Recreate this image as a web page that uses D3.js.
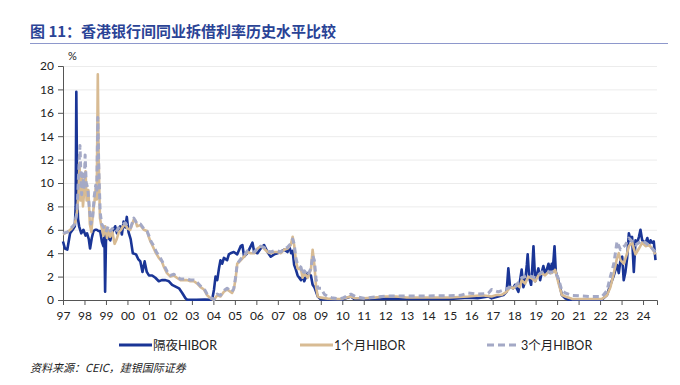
<!DOCTYPE html>
<html>
<head>
<meta charset="utf-8">
<script src="https://cdn.jsdelivr.net/npm/d3@7"></script>
<style>
  body { margin: 0; background: #fff; }
  svg { display: block; }
</style>
</head>
<body>
<svg></svg>
<script>
var width = 680,
    height = 385;
var svg = d3.select("svg")
    .attr("width", width)
    .attr("height", height);

// data: [year fraction, %]
var overnight = [
  [1997.0,5.0],[1997.09,4.4],[1997.2,4.3],[1997.33,5.7],[1997.45,6.0],[1997.55,6.3],[1997.59,8.0],[1997.62,17.8],
  [1997.66,9.0],[1997.7,6.9],[1997.75,6.3],[1997.85,5.7],[1997.95,6.0],[1998.05,5.5],[1998.12,5.7],[1998.2,5.2],
  [1998.26,4.4],[1998.34,5.3],[1998.42,5.9],[1998.5,6.0],[1998.57,6.0],[1998.65,5.9],[1998.73,5.9],[1998.81,5.0],
  [1998.88,4.6],[1998.93,5.5],[1998.96,0.7],[1999.0,5.0],[1999.04,5.7],[1999.12,5.3],[1999.2,5.1],[1999.28,5.7],
  [1999.35,6.0],[1999.43,6.3],[1999.51,5.7],[1999.6,6.1],[1999.66,6.3],[1999.74,5.6],[1999.82,6.7],[1999.9,6.2],
  [1999.97,7.1],[2000.05,5.8],[2000.15,5.2],[2000.25,4.0],[2000.4,3.9],[2000.5,3.5],[2000.6,3.3],[2000.7,2.4],
  [2000.8,3.3],[2000.9,2.4],[2001.0,2.1],[2001.15,2.1],[2001.3,1.9],[2001.46,1.6],[2001.6,1.7],[2001.77,1.7],
  [2001.93,1.6],[2002.08,1.3],[2002.24,1.15],[2002.4,1.0],[2002.55,0.6],[2002.7,0.15],[2002.78,0.02],[2003.2,0.02],
  [2003.6,0.03],[2003.87,0.02],[2003.95,0.1],[2004.03,0.9],[2004.1,2.0],[2004.18,1.7],[2004.26,2.7],[2004.33,3.4],
  [2004.41,3.1],[2004.49,3.6],[2004.64,3.4],[2004.72,3.9],[2004.8,4.0],[2004.95,4.1],[2005.11,3.9],[2005.27,4.6],
  [2005.35,4.7],[2005.43,3.7],[2005.58,4.0],[2005.74,4.6],[2005.82,4.9],[2005.9,4.1],[2006.05,4.0],[2006.2,4.4],
  [2006.36,4.7],[2006.52,4.1],[2006.67,3.7],[2006.83,3.9],[2006.98,4.0],[2007.14,4.1],[2007.3,4.3],[2007.45,4.1],
  [2007.53,4.6],[2007.62,4.0],[2007.69,4.2],[2007.76,3.0],[2007.84,2.6],[2007.92,2.1],[2008.08,1.7],[2008.15,2.1],
  [2008.23,1.6],[2008.39,2.3],[2008.54,2.1],[2008.62,1.3],[2008.7,1.1],[2008.78,0.7],[2008.86,0.3],[2009.01,0.05],
  [2009.5,0.05],[2010.0,0.05],[2010.4,0.3],[2010.55,0.08],[2011.0,0.1],[2011.5,0.08],[2012.0,0.12],[2013.0,0.1],
  [2014.0,0.08],[2015.0,0.08],[2015.86,0.2],[2016.3,0.15],[2016.8,0.3],[2016.95,0.14],[2017.26,0.3],[2017.5,0.43],
  [2017.65,0.7],[2017.73,2.7],[2017.81,1.1],[2017.96,1.0],[2018.04,1.3],[2018.2,0.7],[2018.27,1.6],[2018.35,2.6],
  [2018.43,1.1],[2018.51,1.6],[2018.59,3.0],[2018.63,3.9],[2018.7,1.9],[2018.79,1.3],[2018.85,2.9],[2018.9,4.6],
  [2018.98,1.6],[2019.05,2.1],[2019.13,2.7],[2019.21,1.7],[2019.29,2.4],[2019.36,2.9],[2019.44,2.3],[2019.52,2.6],
  [2019.6,3.1],[2019.68,2.3],[2019.75,3.1],[2019.8,2.6],[2019.88,4.6],[2019.94,2.4],[2020.03,1.86],[2020.14,1.1],
  [2020.22,0.43],[2020.38,0.14],[2020.53,0.02],[2021.0,0.03],[2021.6,0.02],[2022.09,0.03],[2022.32,0.43],[2022.48,1.3],
  [2022.64,2.1],[2022.79,3.0],[2022.87,2.3],[2022.95,3.4],[2023.03,3.7],[2023.1,1.7],[2023.18,2.4],[2023.26,3.6],
  [2023.34,5.7],[2023.42,5.1],[2023.49,5.4],[2023.57,2.4],[2023.65,5.1],[2023.73,4.9],[2023.81,5.4],[2023.88,6.0],
  [2023.96,5.1],[2024.12,4.9],[2024.2,5.3],[2024.27,4.7],[2024.35,5.1],[2024.43,4.9],[2024.5,5.0],[2024.58,3.4]
];

var oneMonth = [
  [1997.0,5.6],[1997.2,5.8],[1997.4,6.1],[1997.55,6.5],[1997.65,7.5],[1997.72,9.0],[1997.77,11.7],[1997.82,8.5],
  [1997.88,10.5],[1997.93,8.0],[1998.0,9.6],[1998.05,11.0],[1998.1,8.5],[1998.18,9.4],[1998.25,6.5],[1998.32,5.8],
  [1998.4,7.5],[1998.47,8.5],[1998.52,9.5],[1998.57,8.6],[1998.62,19.3],[1998.66,12.0],[1998.72,7.0],[1998.8,6.2],
  [1998.88,5.5],[1998.96,6.3],[1999.05,5.3],[1999.12,6.0],[1999.2,5.4],[1999.3,5.8],[1999.4,4.8],[1999.5,5.2],
  [1999.6,5.8],[1999.7,6.0],[1999.8,6.3],[1999.9,6.5],[2000.0,6.1],[2000.13,6.0],[2000.3,6.9],[2000.37,6.8],
  [2000.45,6.3],[2000.6,6.4],[2000.76,6.0],[2000.91,5.9],[2000.99,5.4],[2001.07,5.0],[2001.15,4.7],[2001.3,4.1],
  [2001.46,3.6],[2001.6,3.3],[2001.68,2.9],[2001.84,2.3],[2002.0,2.0],[2002.16,2.1],[2002.3,1.9],[2002.47,1.7],
  [2002.63,1.7],[2002.78,1.7],[2002.93,1.6],[2003.09,1.6],[2003.25,1.4],[2003.4,1.1],[2003.56,0.9],[2003.71,0.4],
  [2003.87,0.15],[2004.03,0.02],[2004.18,0.4],[2004.33,0.3],[2004.49,0.7],[2004.64,0.9],[2004.72,0.8],[2004.87,0.6],
  [2004.95,0.9],[2005.04,1.9],[2005.11,3.1],[2005.27,3.4],[2005.43,3.7],[2005.58,4.1],[2005.74,4.0],[2005.9,4.0],
  [2006.05,4.4],[2006.2,4.6],[2006.36,4.4],[2006.52,4.1],[2006.67,4.0],[2006.83,4.1],[2006.98,4.1],[2007.14,4.0],
  [2007.3,4.3],[2007.45,4.4],[2007.6,4.7],[2007.69,5.4],[2007.76,4.7],[2007.84,3.4],[2007.92,2.7],[2008.08,2.6],
  [2008.15,1.9],[2008.23,2.3],[2008.39,1.9],[2008.54,2.6],[2008.62,4.3],[2008.7,3.0],[2008.78,1.1],[2008.86,0.3],
  [2009.01,0.2],[2009.32,0.12],[2009.8,0.08],[2010.0,0.1],[2010.4,0.3],[2010.6,0.15],[2011.0,0.15],[2011.5,0.2],
  [2012.0,0.3],[2012.5,0.3],[2013.0,0.22],[2014.0,0.22],[2015.0,0.22],[2015.86,0.3],[2016.5,0.4],[2016.95,0.3],
  [2017.18,0.43],[2017.42,0.43],[2017.65,0.7],[2017.81,1.1],[2017.96,1.0],[2018.12,1.3],[2018.27,1.1],[2018.35,1.7],
  [2018.51,1.4],[2018.66,2.0],[2018.82,1.86],[2018.98,1.6],[2019.13,2.1],[2019.29,2.3],[2019.44,2.1],[2019.6,2.4],
  [2019.75,2.3],[2019.91,2.57],[2020.07,1.4],[2020.22,0.43],[2020.38,0.3],[2020.69,0.1],[2021.5,0.08],[2022.09,0.1],
  [2022.32,0.4],[2022.48,1.1],[2022.64,2.3],[2022.79,3.6],[2022.87,4.0],[2022.95,3.4],[2023.1,3.1],[2023.26,4.0],
  [2023.34,4.6],[2023.49,4.9],[2023.65,3.9],[2023.81,4.4],[2023.96,4.9],[2024.12,4.6],[2024.27,4.7],[2024.43,4.4],
  [2024.58,3.9]
];

var threeMonth = [
  [1997.0,5.7],[1997.2,5.8],[1997.4,6.2],[1997.55,6.5],[1997.65,7.5],[1997.72,10.5],[1997.79,13.2],[1997.83,11.0],
  [1997.87,9.0],[1997.92,10.8],[1997.98,9.5],[1998.03,12.4],[1998.08,10.0],[1998.15,9.6],[1998.22,8.0],[1998.3,6.5],
  [1998.38,7.0],[1998.45,8.8],[1998.52,9.8],[1998.57,9.2],[1998.62,15.6],[1998.67,11.0],[1998.73,7.5],[1998.8,6.5],
  [1998.9,6.2],[1999.0,5.8],[1999.1,6.3],[1999.2,5.9],[1999.3,6.1],[1999.45,5.8],[1999.6,6.2],[1999.75,6.4],
  [1999.9,6.6],[2000.0,6.3],[2000.15,6.2],[2000.3,7.0],[2000.45,6.5],[2000.6,6.5],[2000.76,6.1],[2000.91,5.9],
  [2001.0,5.5],[2001.1,5.0],[2001.2,4.7],[2001.35,4.1],[2001.5,3.7],[2001.62,3.3],[2001.72,2.9],[2001.86,2.4],
  [2002.0,2.1],[2002.16,2.2],[2002.3,2.0],[2002.47,1.8],[2002.63,1.8],[2002.78,1.8],[2002.93,1.7],[2003.09,1.7],
  [2003.25,1.5],[2003.4,1.2],[2003.56,1.0],[2003.71,0.5],[2003.87,0.2],[2004.03,0.05],[2004.18,0.5],[2004.33,0.4],
  [2004.49,0.8],[2004.64,1.0],[2004.72,0.9],[2004.87,0.7],[2004.95,1.0],[2005.04,2.0],[2005.11,3.1],[2005.27,3.5],
  [2005.43,3.8],[2005.58,4.2],[2005.74,4.1],[2005.9,4.1],[2006.05,4.4],[2006.2,4.6],[2006.36,4.5],[2006.52,4.2],
  [2006.67,4.1],[2006.83,4.2],[2006.98,4.2],[2007.14,4.1],[2007.3,4.4],[2007.45,4.5],[2007.6,4.8],[2007.69,5.2],
  [2007.76,4.8],[2007.84,3.6],[2007.92,3.0],[2008.08,2.8],[2008.15,2.2],[2008.23,2.5],[2008.39,2.1],[2008.54,2.7],
  [2008.62,3.8],[2008.7,3.4],[2008.78,1.8],[2008.86,1.0],[2009.01,1.0],[2009.16,0.5],[2009.32,0.3],[2009.5,0.2],
  [2009.8,0.1],[2010.0,0.15],[2010.4,0.5],[2010.6,0.3],[2011.0,0.15],[2011.5,0.25],[2012.1,0.35],[2013.0,0.35],
  [2014.0,0.35],[2015.0,0.37],[2015.5,0.4],[2015.86,0.6],[2016.3,0.5],[2016.8,0.57],[2016.95,0.9],[2017.26,0.7],
  [2017.57,0.9],[2017.81,1.1],[2018.04,1.1],[2018.35,1.9],[2018.66,2.1],[2018.98,1.9],[2019.29,2.4],[2019.6,2.4],
  [2019.91,2.4],[2020.07,1.8],[2020.22,0.8],[2020.38,0.6],[2020.69,0.4],[2021.5,0.3],[2022.09,0.3],[2022.32,0.8],
  [2022.48,2.0],[2022.64,3.1],[2022.72,4.1],[2022.79,5.0],[2022.95,4.3],[2023.18,4.7],[2023.34,5.3],[2023.65,4.7],
  [2023.96,5.1],[2024.27,4.7],[2024.58,4.1]
];

var yTicks = d3.range(0, 21, 2);
var xYears = d3.range(1997, 2025);
var xLabels = xYears.map(y => String(y).slice(2));

var seriesNames = ["隔夜HIBOR", "1个月HIBOR", "3个月HIBOR"];
var colors = ["#1a3596", "#d8bb93", "#a4a9c6"];

var margin = {left: 63, right: 23, top: 66, bottom: 85};

var x = d3.scaleLinear()
    .domain([1997, 2024.65])
    .range([margin.left, width - margin.right]);
var y = d3.scaleLinear()
    .domain([0, 20])
    .range([height - margin.bottom, margin.top]);

// title
svg.append("text")
    .attr("x", 30)
    .attr("y", 37)
    .attr("fill", "#2a4396")
    .attr("font-family", "Noto Sans CJK SC")
    .attr("font-weight", "bold")
    .attr("font-size", 15)
    .text("图 11：香港银行间同业拆借利率历史水平比较");
svg.append("line")
    .attr("x1", 30).attr("x2", 668)
    .attr("y1", 43.5).attr("y2", 43.5)
    .attr("stroke", "#8e98cc")
    .attr("stroke-width", 1);

// grid
svg.append("g")
    .selectAll("line")
    .data(yTicks.filter(d => d > 0))
    .enter()
    .append("line")
    .attr("x1", margin.left)
    .attr("x2", width - margin.right)
    .attr("y1", d => y(d) + 0.5)
    .attr("y2", d => y(d) + 0.5)
    .attr("stroke", "#ececec");

// axes
var yAxis = svg.append("g")
    .attr("transform", "translate(" + margin.left + ",0)")
    .call(d3.axisLeft(y).tickValues(yTicks).tickSize(5).tickPadding(4));
var xAxis = svg.append("g")
    .attr("transform", "translate(0," + y(0) + ")")
    .call(d3.axisBottom(x).tickValues(xYears).tickFormat((d, i) => xLabels[i]).tickSize(5).tickPadding(6));

[yAxis, xAxis].forEach(g => {
    g.select(".domain").attr("stroke", "#555");
    g.selectAll(".tick line").attr("stroke", "#555");
    g.selectAll("text")
        .attr("fill", "#222")
        .attr("font-family", "Lato")
        .attr("font-size", 12);
});

svg.append("text")
    .attr("x", 68)
    .attr("y", 60)
    .attr("fill", "#222")
    .attr("font-family", "Lato")
    .attr("font-size", 11)
    .text("%");

// lines
var line = d3.line()
    .x(d => x(d[0]))
    .y(d => y(d[1]));

var all = [overnight, oneMonth, threeMonth];
svg.append("g")
    .selectAll("path")
    .data(all)
    .enter()
    .append("path")
    .attr("d", line)
    .attr("fill", "none")
    .attr("stroke", (d, i) => colors[i])
    .attr("stroke-width", (d, i) => i == 2 ? 3 : 2.6)
    .attr("stroke-dasharray", (d, i) => i == 2 ? "6,4" : null)
    .attr("stroke-linejoin", "round");

// legend
var legendX = [119, 300, 487];
var legend = svg.append("g")
    .selectAll("g")
    .data(seriesNames)
    .enter()
    .append("g")
    .attr("transform", (d, i) => "translate(" + legendX[i] + ",345)");
legend.append("line")
    .attr("x1", 0).attr("x2", 33)
    .attr("stroke", (d, i) => colors[i])
    .attr("stroke-width", 3)
    .attr("stroke-dasharray", (d, i) => i == 2 ? "7,4" : null);
legend.append("text")
    .attr("x", 34)
    .attr("y", 4.5)
    .attr("fill", "#222")
    .attr("font-family", "Lato, Noto Sans CJK SC")
    .attr("font-size", 12.5)
    .text(d => d);

// source
svg.append("text")
    .attr("x", 30)
    .attr("y", 372)
    .attr("fill", "#222")
    .attr("font-family", "Noto Sans CJK SC")
    .attr("font-style", "italic")
    .attr("font-size", 11)
    .text("资料来源：CEIC，建银国际证券");
</script>
</body>
</html>
